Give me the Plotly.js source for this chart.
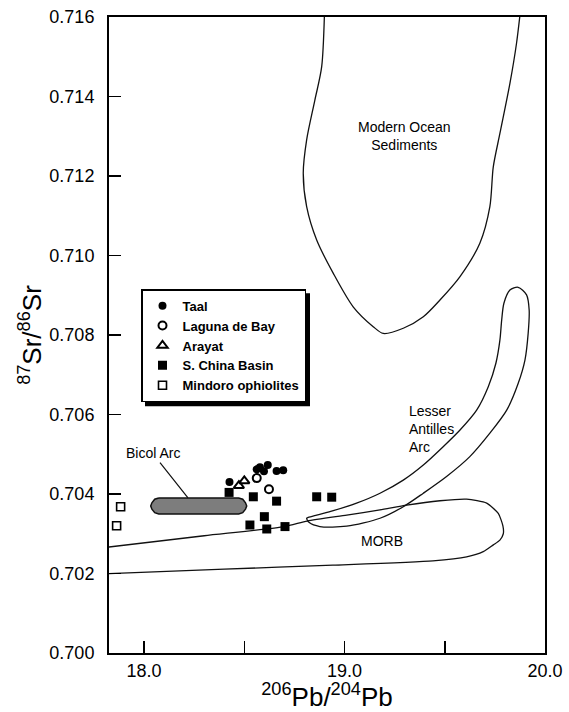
<!DOCTYPE html>
<html>
<head>
<meta charset="utf-8">
<script src="https://cdn.plot.ly/plotly-3.0.1.min.js"></script>
<style>html,body{margin:0;padding:0;background:#fff;}#chart{width:569px;height:712px;}</style>
</head>
<body>
<div id="chart"></div>
<script>
// ---- data ----
const taalX = [18.426, 18.562, 18.578, 18.617, 18.598, 18.661, 18.694];
const taalY = [0.70430, 0.70462, 0.70467, 0.70473, 0.70457, 0.70458, 0.70460];

const lagunaX = [18.562, 18.623];
const lagunaY = [0.70440, 0.70412];

const arayatX = [18.500, 18.473];
const arayatY = [0.70433, 0.70421];

const chinaX = [18.424, 18.545, 18.661, 18.861, 18.936, 18.600, 18.528, 18.612, 18.703];
const chinaY = [0.70404, 0.70393, 0.70382, 0.70393, 0.70392, 0.70343, 0.70322, 0.70312, 0.70318];

const mindoroX = [17.883, 17.863];
const mindoroY = [0.70368, 0.70320];

// field outlines
const sedX = [18.902, 18.886, 18.852, 18.811, 18.794, 18.811, 18.861, 18.944, 19.043, 19.143, 19.193, 19.293, 19.393, 19.476, 19.576, 19.675, 19.725, 19.742, 19.775, 19.825, 19.858, 19.885];
const sedY = [0.7165, 0.71475, 0.71391, 0.71291, 0.71207, 0.71123, 0.71039, 0.70955, 0.70871, 0.70821, 0.70804, 0.70817, 0.70846, 0.70888, 0.70947, 0.71031, 0.71123, 0.71223, 0.71307, 0.71433, 0.71534, 0.7165];

const antX = [19.866, 19.908, 19.921, 19.916, 19.900, 19.866, 19.809, 19.725, 19.625, 19.509, 19.393, 19.293, 19.177, 19.011, 18.877, 18.824, 18.811,
              18.819, 18.861, 18.944, 19.060, 19.177, 19.293, 19.393, 19.492, 19.576, 19.659, 19.717, 19.755, 19.775, 19.784, 19.795, 19.825, 19.866];
const antY = [0.70920, 0.70901, 0.70863, 0.70804, 0.70737, 0.70678, 0.70611, 0.70553, 0.70494, 0.70444, 0.70402, 0.70368, 0.70339, 0.70319, 0.70318, 0.70328, 0.70339,
              0.70341, 0.70347, 0.70358, 0.70377, 0.70402, 0.70435, 0.70473, 0.70519, 0.70561, 0.70611, 0.70670, 0.70729, 0.70787, 0.70838, 0.70880, 0.70913, 0.70920];

const morbX = [17.78, 18.30, 18.70, 18.814, 19.011, 19.177, 19.310, 19.476, 19.609, 19.709, 19.767, 19.790, 19.792, 19.775, 19.742, 19.692, 19.609, 19.441, 18.942, 18.40, 17.78];
const morbY = [0.70264, 0.70295, 0.70318, 0.70332, 0.70347, 0.70360, 0.70372, 0.70383, 0.70387, 0.70377, 0.70351, 0.70320, 0.70300, 0.70284, 0.70272, 0.70255, 0.70242, 0.70232, 0.70221, 0.70211, 0.70199];

const bicolX = [18.073, 18.053, 18.039, 18.033, 18.039, 18.053, 18.073, 18.472, 18.492, 18.506, 18.512, 18.506, 18.492, 18.472, 18.073];
const bicolY = [0.70390, 0.70387, 0.70378, 0.70370, 0.70362, 0.70353, 0.70350, 0.70350, 0.70353, 0.70362, 0.70370, 0.70378, 0.70387, 0.70390, 0.70390];

const xTickVals = [18.0, 18.5, 19.0, 19.5, 20.0];
const xTickText = ['18.0', '', '19.0', '', '20.0'];
const yTickVals = [0.700, 0.702, 0.704, 0.706, 0.708, 0.710, 0.712, 0.714, 0.716];

const FONT = 'Liberation Sans, Arial, Helvetica, sans-serif';
const outline = {color: '#111', width: 1.3};

const traces = [
  {x: sedX, y: sedY, mode: 'lines', line: Object.assign({shape: 'spline', smoothing: 0.8}, outline), showlegend: false, hoverinfo: 'skip'},
  {x: antX, y: antY, mode: 'lines', line: Object.assign({shape: 'spline', smoothing: 0.8}, outline), showlegend: false, hoverinfo: 'skip'},
  {x: morbX, y: morbY, mode: 'lines', line: Object.assign({shape: 'spline', smoothing: 0.6}, outline), showlegend: false, hoverinfo: 'skip'},
  {x: bicolX, y: bicolY, mode: 'lines', fill: 'toself', fillcolor: '#7d7d7d', line: {color: '#111', width: 1.5}, showlegend: false, hoverinfo: 'skip'},
  {x: taalX, y: taalY, mode: 'markers', name: 'Taal', marker: {symbol: 'circle', size: 8, color: '#000'}},
  {x: lagunaX, y: lagunaY, mode: 'markers', name: 'Laguna de Bay', marker: {symbol: 'circle-open', size: 8, color: '#000', line: {width: 2}}},
  {x: arayatX, y: arayatY, mode: 'markers', name: 'Arayat', marker: {symbol: 'triangle-up-open', size: 9, color: '#000', line: {width: 2}}},
  {x: chinaX, y: chinaY, mode: 'markers', name: 'S. China Basin', marker: {symbol: 'square', size: 9, color: '#000'}},
  {x: mindoroX, y: mindoroY, mode: 'markers', name: 'Mindoro ophiolites', marker: {symbol: 'square-open', size: 8, color: '#000', line: {width: 1.6}}}
];

const LEG_X = 0.0734, LEG_Y = 0.572;
const layout = {
  width: 569, height: 712,
  margin: {l: 109, r: 24, t: 17, b: 59},
  paper_bgcolor: '#fff', plot_bgcolor: '#fff',
  font: {family: FONT, color: '#000'},
  showlegend: true,
  legend: {
    x: LEG_X, y: LEG_Y, xanchor: 'left', yanchor: 'top',
    bgcolor: '#fff', bordercolor: '#000', borderwidth: 1.5,
    font: {family: FONT, size: 13, weight: 'bold', color: '#000'},
    tracegroupgap: 0
  },
  shapes: [
    {type: 'rect', xref: 'paper', yref: 'paper', layer: 'above',
     x0: 0.0826, x1: 0.4564, y0: 0.3915, y1: 0.5645, fillcolor: '#000', line: {width: 0}}
  ],
  xaxis: {
    range: [17.825, 20.0], showgrid: false, zeroline: false,
    showline: true, mirror: true, linecolor: '#000', linewidth: 2,
    ticks: 'inside', ticklen: 12, tickwidth: 1.5, tickcolor: '#000',
    tickvals: xTickVals, ticktext: xTickText,
    tickfont: {family: FONT, size: 18, color: '#000'},
    title: {text: '<sup>206</sup>Pb/<sup>204</sup>Pb', font: {family: FONT, size: 26, color: '#000'}, standoff: 2}
  },
  yaxis: {
    range: [0.700, 0.716], showgrid: false, zeroline: false,
    showline: true, mirror: true, linecolor: '#000', linewidth: 2,
    ticks: 'inside', ticklen: 12, tickwidth: 1.5, tickcolor: '#000',
    tickvals: yTickVals, tickformat: '.3f',
    ticklabelstandoff: 9,
    tickfont: {family: FONT, size: 18, color: '#000'},
    title: {text: '<sup>87</sup>Sr/<sup>86</sup>Sr', font: {family: FONT, size: 26, color: '#000'}, standoff: 0}
  },
  annotations: [
    {x: 19.301, y: 0.71301, xref: 'x', yref: 'y', text: 'Modern Ocean<br>Sediments', showarrow: false, font: {family: FONT, size: 14, color: '#000'}, align: 'center'},
    {x: 19.310, y: 0.70563, xref: 'x', yref: 'y', text: 'Lesser<br>Antilles<br>Arc', showarrow: false, xanchor: 'left', align: 'left', font: {family: FONT, size: 14, color: '#000'}},
    {x: 19.185, y: 0.70282, xref: 'x', yref: 'y', text: 'MORB', showarrow: false, font: {family: FONT, size: 14, color: '#000'}},
    {x: 18.219, y: 0.70390, xref: 'x', yref: 'y', ax: 18.042, ay: 0.70503, axref: 'x', ayref: 'y', text: 'Bicol Arc', showarrow: true, arrowhead: 0, arrowwidth: 1.2, arrowcolor: '#111', standoff: 0, font: {family: FONT, size: 14, color: '#000'}}
  ]
};

const gd = document.getElementById('chart');
Plotly.newPlot(gd, traces, layout, {displayModeBar: false, staticPlot: true}).then(function () {
  try {
    const fl = gd._fullLayout;
    const lw = fl.legend && fl.legend._width, lh = fl.legend && fl.legend._height;
    if (!lw || !lh) return;
    const pw = fl._size.w, ph = fl._size.h;
    const off = 4;
    const x0 = LEG_X + off / pw, x1 = LEG_X + (lw + off) / pw;
    const y1 = LEG_Y - off / ph, y0 = LEG_Y - (lh + off) / ph;
    return Plotly.relayout(gd, {'shapes[0].x0': x0, 'shapes[0].x1': x1, 'shapes[0].y0': y0, 'shapes[0].y1': y1});
  } catch (e) {}
});
</script>
</body>
</html>
